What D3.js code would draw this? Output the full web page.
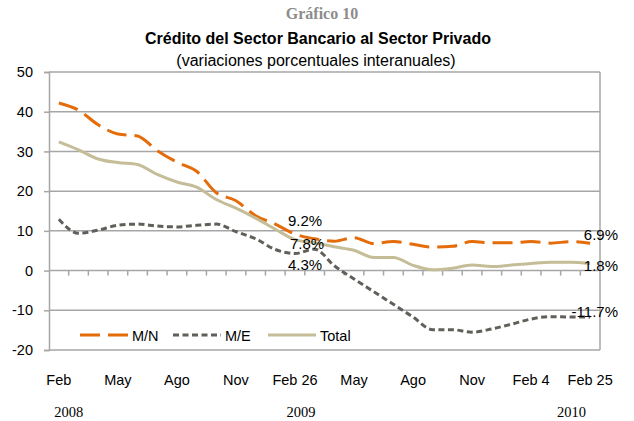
<!DOCTYPE html>
<html>
<head>
<meta charset="utf-8">
<script src="https://cdn.jsdelivr.net/npm/d3@7"></script>
<style>
  body { margin: 0; background: #fff; }
  text { font-family: "Liberation Sans", Arial, sans-serif; fill: #000; }
</style>
</head>
<body>
<script>
var svgWidth = 634;
var svgHeight = 421;

// categories: monthly until Jan 2010, then weekly Feb 2010
var categories = ["Feb 08", "Mar 08", "Abr 08", "May 08", "Jun 08", "Jul 08", "Ago 08", "Sep 08", "Oct 08",
  "Nov 08", "Dic 08", "Ene 09", "Feb 26 09", "Mar 09", "Abr 09", "May 09", "Jun 09", "Jul 09", "Ago 09",
  "Sep 09", "Oct 09", "Nov 09", "Dic 09", "Ene 10", "Feb 4 10", "Feb 11 10", "Feb 18 10", "Feb 25 10"];

var mnValues = [42.2, 40.4, 36.7, 34.4, 33.9, 30.2, 27.3, 25.0, 19.6, 17.6, 13.8, 11.7, 9.2, 8.0,
  7.4, 8.3, 6.8, 7.3, 6.6, 5.9, 6.1, 7.3, 7.0, 7.0, 7.3, 6.9, 7.3, 6.9];
var meValues = [12.9, 9.4, 10.2, 11.4, 11.7, 11.2, 11.0, 11.4, 11.7, 9.8, 8.0, 5.3, 4.3, 5.4,
  1.2, -2.1, -5.3, -8.5, -11.7, -14.9, -14.9, -15.5, -14.7, -13.5, -12.2, -11.6, -11.7, -11.7];
var totalValues = [32.4, 30.4, 28.1, 27.2, 26.7, 24.2, 22.3, 21.0, 17.9, 15.7, 13.2, 10.4, 7.8, 7.0,
  6.0, 5.1, 3.3, 3.3, 1.3, 0.2, 0.6, 1.4, 1.0, 1.4, 1.8, 2.1, 2.1, 1.8];

var tickCats = ["Feb 08", "May 08", "Ago 08", "Nov 08", "Feb 26 09", "May 09", "Ago 09", "Nov 09", "Feb 4 10", "Feb 25 10"];
var tickLabels = ["Feb", "May", "Ago", "Nov", "Feb 26", "May", "Ago", "Nov", "Feb 4", "Feb 25"];
var yearCats = ["Feb 08", "Feb 26 09", "Feb 18 10"];
var yearLabels = ["2008", "2009", "2010"];
var yTicks = [-20, -10, 0, 10, 20, 30, 40, 50];

var series = [
  { name: "M/N", values: mnValues, color: "#e46c0a", dash: "20,8", width: 3 },
  { name: "M/E", values: meValues, color: "#615f59", dash: "6,3.5", width: 3 },
  { name: "Total", values: totalValues, color: "#c4bd97", dash: null, width: 3 }
];

var svg = d3.select("body").append("svg")
  .attr("width", svgWidth)
  .attr("height", svgHeight);

var x = d3.scaleBand().domain(categories).range([49, 600]).padding(0);
var y = d3.scaleLinear().domain([-20, 50]).range([350, 72]);
var cx = function (c) { return x(c) + x.bandwidth() / 2; };

// titles
svg.append("text").attr("x", 322).attr("y", 19)
  .attr("text-anchor", "middle")
  .style("font-family", "'Liberation Serif', 'Times New Roman', serif")
  .style("font-weight", "bold").style("font-size", "16px").style("fill", "#8c8c8c")
  .text("Gráfico 10");
svg.append("text").attr("x", 318).attr("y", 44)
  .attr("text-anchor", "middle")
  .style("font-weight", "bold").style("font-size", "16px")
  .text("Crédito del Sector Bancario al Sector Privado");
svg.append("text").attr("x", 316).attr("y", 66)
  .attr("text-anchor", "middle")
  .style("font-size", "16px")
  .text("(variaciones porcentuales interanuales)");

// gridlines + border
var grid = svg.append("g");
grid.selectAll("line").data(yTicks).enter().append("line")
  .attr("x1", 49).attr("x2", 600)
  .attr("y1", d => y(d)).attr("y2", d => y(d))
  .attr("stroke", "#a6a6a6").attr("stroke-width", 1.5);
grid.append("line").attr("x1", 600).attr("x2", 600).attr("y1", y(50)).attr("y2", y(-20))
  .attr("stroke", "#a6a6a6").attr("stroke-width", 1.5);

// left axis
var leftAxis = d3.axisLeft(y).tickValues(yTicks).tickSize(5).tickPadding(11)
  .tickFormat(d => String(d));
var yAxis = svg.append("g").attr("transform", "translate(49,0)").call(leftAxis);
yAxis.select(".domain").attr("stroke", "#a6a6a6").attr("stroke-width", 1.5);
yAxis.selectAll(".tick line").attr("stroke", "#a6a6a6").attr("stroke-width", 1.5);
yAxis.selectAll(".tick text").style("font-size", "14.5px")
  .style("font-family", "'Liberation Sans', Arial, sans-serif").attr("fill", "#000");

// category ticks along the zero line
svg.append("g").selectAll("line").data(categories.slice(1)).enter().append("line")
  .attr("x1", d => x(d)).attr("x2", d => x(d))
  .attr("y1", y(0)).attr("y2", y(0) + 5)
  .attr("stroke", "#a6a6a6").attr("stroke-width", 1.5);

// month labels
svg.append("g").selectAll("text").data(tickCats).enter().append("text")
  .attr("x", d => cx(d)).attr("y", 385)
  .attr("text-anchor", "middle")
  .style("font-size", "14.5px")
  .text((d, i) => tickLabels[i]);

// year labels
var yearOffset = [10, 6, 1];
svg.append("g").selectAll("text").data(yearCats).enter().append("text")
  .attr("x", (d, i) => cx(d) + yearOffset[i]).attr("y", 417)
  .attr("text-anchor", "middle")
  .style("font-family", "'Liberation Serif', 'Times New Roman', serif")
  .style("font-size", "14.5px")
  .text((d, i) => yearLabels[i]);

// lines
var line = d3.line()
  .x((d, i) => cx(categories[i]))
  .y(d => y(d))
  .curve(d3.curveMonotoneX);

svg.append("g").selectAll("path").data(series).enter().append("path")
  .attr("d", d => line(d.values))
  .attr("fill", "none")
  .attr("stroke", d => d.color)
  .attr("stroke-width", d => d.width)
  .attr("stroke-dasharray", d => d.dash);

// data labels
var k = categories.indexOf("Feb 26 09");
var last = categories.length - 1;
var labels = svg.append("g");
labels.append("text").attr("x", cx(categories[k]) + 10).attr("y", y(mnValues[k]) - 8)
  .attr("text-anchor", "middle").style("font-size", "15px").text(mnValues[k].toFixed(1) + "%");
labels.append("text").attr("x", cx(categories[k]) + 12).attr("y", y(totalValues[k]) + 9)
  .attr("text-anchor", "middle").style("font-size", "15px").text(totalValues[k].toFixed(1) + "%");
labels.append("text").attr("x", cx(categories[k]) + 10).attr("y", y(meValues[k]) + 17)
  .attr("text-anchor", "middle").style("font-size", "15px").text(meValues[k].toFixed(1) + "%");
labels.append("text").attr("x", 618).attr("y", y(mnValues[last]) - 3)
  .attr("text-anchor", "end").style("font-size", "15px").text(mnValues[last].toFixed(1) + "%");
labels.append("text").attr("x", 618).attr("y", y(totalValues[last]) + 8)
  .attr("text-anchor", "end").style("font-size", "15px").text(totalValues[last].toFixed(1) + "%");
labels.append("text").attr("x", 618).attr("y", y(meValues[last]) + 0)
  .attr("text-anchor", "end").style("font-size", "15px").text(meValues[last].toFixed(1) + "%");

// legend
var legendX = [80, 173, 268];
var legend = svg.append("g").selectAll("g").data(series).enter().append("g")
  .attr("transform", (d, i) => `translate(${legendX[i]}, 335)`);
legend.append("line")
  .attr("x1", 0).attr("x2", 48).attr("y1", 0).attr("y2", 0)
  .attr("stroke", d => d.color)
  .attr("stroke-width", d => d.width)
  .attr("stroke-dasharray", d => d.dash);
legend.append("text")
  .attr("x", 52).attr("y", 5.5)
  .style("font-size", "14.5px")
  .text(d => d.name);
</script>
</body>
</html>
